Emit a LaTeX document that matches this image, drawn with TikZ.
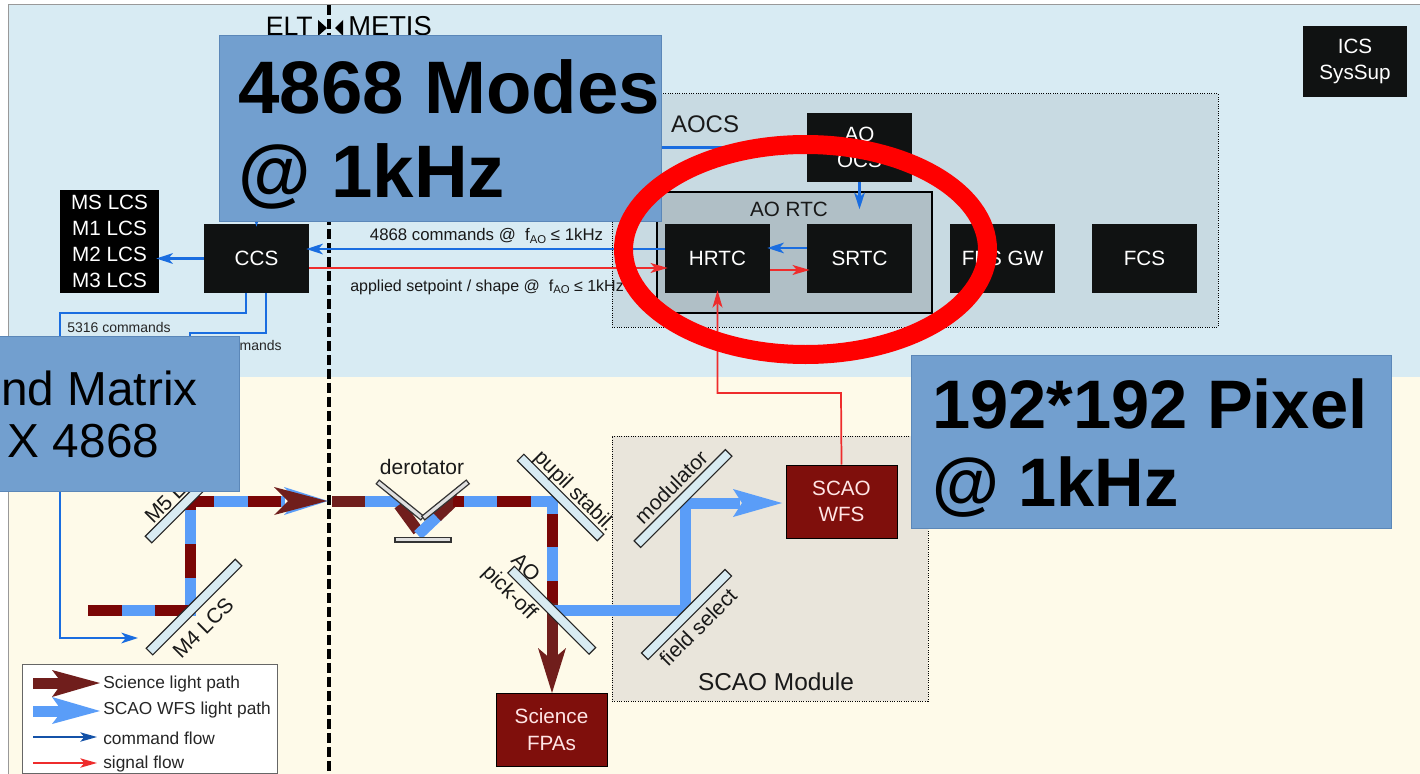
\documentclass[tikz,border=0pt]{standalone}
\usepackage{fontspec}
\setmainfont{Liberation Sans}
\usetikzlibrary{arrows.meta,calc}
\definecolor{skybg}{HTML}{D8EBF3}
\definecolor{creambg}{HTML}{FEFAE9}
\definecolor{aocsbg}{HTML}{C8DAE2}
\definecolor{rtcbg}{HTML}{B0BFC6}
\definecolor{scaobg}{HTML}{E9E5DB}
\definecolor{callblue}{HTML}{729FCF}
\definecolor{callline}{HTML}{5B87B8}
\definecolor{boxblack}{HTML}{101212}
\definecolor{wine}{HTML}{7F0F0C}
\definecolor{beamred}{HTML}{7A0606}
\definecolor{beamsolid}{HTML}{701E1C}
\definecolor{beamblue}{HTML}{5A9DF8}
\definecolor{cmdblue}{HTML}{1A6DE0}
\definecolor{sigred}{HTML}{EE2C2C}
\definecolor{mirrorfill}{HTML}{D8EBF2}
\newcommand\fz[2]{\fontsize{#1}{#2}\selectfont}
\newcommand\fao{f\raisebox{-2pt}{\fz{8.5}{8.5}AO}}
\tikzset{
  x=0.75pt,y=-0.75pt,
  blackbox/.style={fill=boxblack,draw=none,text=white,inner sep=0pt,align=center,minimum width=78.75pt,minimum height=51.75pt,font=\fz{15.5}{20}},
  winebox/.style={fill=wine,draw=black,line width=.75pt,text=white!90!red,inner sep=0pt,align=center,font=\fz{15.5}{20}},
  zonebox/.style={draw=black,densely dotted,line width=.75pt,inner sep=0pt},
  callout/.style={fill=callblue,draw=callline,line width=.75pt,inner sep=0pt},
  calltext/.style={inner sep=0pt,anchor=west,align=left,text=black},
  mirror/.style={fill=mirrorfill,draw=black!85,line width=.9pt,inner sep=0pt,minimum height=7pt},
  dero/.style={fill=black!12,draw=black!80,line width=.9pt,inner sep=0pt,minimum height=3.6pt},
  beam/.style={line width=8.25pt,color=beamblue,line join=miter},
  beamdash/.style={line width=8.25pt,color=beamred,line join=miter},
  flowblue/.style={draw=cmdblue,line width=1.6pt,-{Stealth[length=12.5pt,width=8pt,inset=3.5pt]},shorten >=-2.25pt},
  flowred/.style={draw=sigred,line width=1.3pt,-{Stealth[length=13pt,width=7.5pt,inset=3.5pt]},shorten >=-2.25pt},
  lbl/.style={inner sep=0pt,text=black!90,font=\fz{15.75}{18}},
  small/.style={inner sep=0pt,text=black!85,font=\fz{10.5}{12}},
  mid/.style={inner sep=0pt,text=black!90,font=\fz{12}{14}},
  leg/.style={inner sep=0pt,anchor=west,text=black!85,font=\fz{13}{15}},
}
\begin{document}
\begin{tikzpicture}
\useasboundingbox (0,0) rectangle (1420,774);
\fill[white] (0,0) rectangle (1420,774);
\fill[creambg] (8,377) rectangle (1420,774);
\fill[skybg] (8,5) rectangle (1420,377);
\draw[black!40,line width=.75pt] (8,774) -- (8,5) -- (1420,5);

% zones
\node[zonebox,fill=aocsbg,minimum width=454.5pt,minimum height=174.75pt] (aocs) at (915,210.5) {};
\node[draw=black,line width=.9pt,fill=rtcbg,inner sep=0pt,minimum width=206.25pt,minimum height=90.75pt] (rtc) at (794.5,252.5) {};
\node[zonebox,fill=scaobg,minimum width=237pt,minimum height=198.75pt] (scao) at (770,568.5) {};

% black boxes
\node[blackbox,minimum width=78pt,minimum height=52.5pt] (ics) at (1355,61.5) {ICS\\SysSup};
\node[blackbox] (ocs) at (859.5,147.5) {AO\\OCS};
\node[blackbox] (hrtc) at (717.5,258.5) {HRTC};
\node[blackbox] (srtc) at (859.5,258.5) {SRTC};
\node[blackbox] (gw) at (1002.5,258.5) {FPS GW};
\node[blackbox] (fcs) at (1144.5,258.5) {FCS};
\node[blackbox] (ccs) at (256.5,258.5) {CCS};
\node[fill=black,text=white,inner sep=0pt,align=center,minimum width=74.25pt,minimum height=77.25pt,font=\fz{15.5}{19.5}] (lcs) at (109.5,241.5) {MS LCS\\M1 LCS\\M2 LCS\\M3 LCS};
\node[winebox,minimum width=83.25pt,minimum height=54.75pt] (wfs) at (841.5,501.5) {SCAO\\WFS};
\node[winebox,minimum width=83.25pt,minimum height=54.75pt] (fpa) at (551.5,729.5) {Science\\FPAs};

% interface line
\draw[black,line width=3pt,dash pattern=on 7.5pt off 3pt] (329,5) -- (329,774);

% labels of the zones
\node[lbl,font=\fz{18}{20}] (aocsl) at (705,124) {AOCS};
\node[lbl,font=\fz{15.5}{18}] (rtcl) at (789,209) {AO RTC};
\node[lbl,font=\fz{18.3}{20}] (scaol) at (776,682) {SCAO Module};

% flows
\coordinate (ccsdrop1) at (246,293);
\coordinate (ccsdrop2) at (266,293);
\coordinate (m4in) at (138,638);
\coordinate (m5hid) at (190,345);
\draw[flowblue] (ocs.west) -| (ccs.north);
\draw[flowblue] (ccs.west) -- (ccs.west -| lcs.east);
\draw[flowblue] ([yshift=7.1pt]hrtc.west) -- ([yshift=7.1pt]ccs.east);
\draw[flowred] ([yshift=-7.1pt]ccs.east) -- ([yshift=-7.1pt]hrtc.west);
\draw[flowblue,shorten >=0pt] (ocs.south) -- ++(0,27);
\draw[flowblue] ([yshift=7.9pt]srtc.west) -- ([yshift=7.9pt]hrtc.east);
\draw[flowred] ([yshift=-8.6pt]hrtc.east) -- ([yshift=-8.6pt]srtc.west);
\draw[flowred] (wfs.north) -- (841,393) -- (717.5,393) -- (hrtc.south);
\draw[flowblue,shorten >=0pt] (ccsdrop1) -- (246,313) -- (60,313) -- (60,638) -- (m4in);
\draw[draw=cmdblue,line width=1.6pt] (ccsdrop2) -- (266,333) -- (190,333) -- (m5hid);

\node[mid,font=\fz{12.6}{14}] (c1) at (486.5,236) {4868 commands @ \ \fao{} ≤ 1kHz};
\node[mid,anchor=west] (c2) at (350,287) {applied setpoint / shape @ \ \fao{} ≤ 1kHz};
\node[small,anchor=west] (c3) at (67,327) {5316 commands};
\node[small,anchor=east] (c4) at (282,345) {mands};

% light paths
\coordinate (a0) at (88,610);
\coordinate (a1) at (190,610);
\coordinate (a2) at (190,501);
\coordinate (a3) at (285,501);
\coordinate (b0) at (332,501);
\coordinate (b1) at (552,501);
\coordinate (b2) at (552,603);
\coordinate (g0) at (552,610);
\coordinate (g1) at (685,610);
\coordinate (g2) at (685,503);
\coordinate (g3) at (740,503);
\draw[beam] (a0) -- (a1) -- (a2) -- (a3);
\draw[beamdash,dash pattern=on 25.2pt off 25.2pt] (a0) -- (a1) -- (a2) -- (a3);
\fill[beamblue] (284,487) -- (297,501) -- (284,515) -- (328,501) -- cycle;
\fill[beamsolid] (274,487) -- (288,501) -- (274,515) -- (327,501) -- cycle;

\draw[beam] (365,501) -- (400,501);
\draw[beamdash,color=beamsolid] (b0) -- (365,501);
\draw[beamdash,color=beamsolid] (399,505) -- (418,531);
\draw[beam] (418,535) -- (438,516);
\draw[beamdash,color=beamsolid] (437,517) -- (458,497);
\draw[beamdash] (453,501) -- (464,501);
\draw[beam] (464,501) -- (b1) -- (b2);
\draw[beamdash] (497,501) -- (531,501);
\draw[beamdash] (552,514) -- (552,547);
\draw[beamdash] (552,581) -- (b2);
\draw[beamdash,color=beamsolid] (b2) -- (552,665);
\fill[beamsolid] (538,648) -- (552,660) -- (566,648) -- (552,693) -- cycle;
\draw[beam] (g0) -- (g1) -- (g2) -- (g3);
\fill[beamblue] (733,489) -- (742,503) -- (733,517) -- (782,503) -- cycle;

% mirrors
\node[mirror,rotate=45,minimum width=94.5pt] (m4) at (194,607) {};
\node[mirror,rotate=45,minimum width=84.75pt] (m5) at (188.5,499.5) {};
\node[mirror,rotate=-45,minimum width=84.75pt] (pupil) at (560.5,497.5) {};
\node[mirror,rotate=-45,minimum width=86.25pt] (pick) at (551.75,610.25) {};
\node[mirror,rotate=45,minimum width=96.75pt] (modu) at (683,498.5) {};
\node[mirror,rotate=45,minimum width=88.5pt] (fsel) at (686.5,614.5) {};
\node[dero,rotate=-39,minimum width=43pt] (dl) at (400,500) {};
\node[dero,rotate=39,minimum width=43pt] (dr) at (445.5,500) {};
\node[dero,rotate=0,minimum width=42pt] (db) at (423,539.5) {};

\node[lbl,anchor=west,rotate=45] (m5l) at (148,520) {M5 LCS};
\node[lbl,rotate=45] (m4l) at (203,628) {M4 LCS};
\node[lbl] (derol) at (422,467) {derotator};
\node[lbl,rotate=-45] (pupl) at (574,492) {pupil stabil.};
\node[lbl,rotate=-45] (aol) at (526,567) {AO};
\node[lbl,rotate=-45] (pkl) at (509,593) {pick-off};
\node[lbl,rotate=45] (modl) at (671,487) {modulator};
\node[lbl,rotate=45] (fsl) at (698,627) {field select};

% ELT / METIS
\node[lbl,anchor=base east,font=\fz{20}{20},text=black] (elt) at (313,35.5) {ELT};
\node[lbl,anchor=base west,font=\fz{20.5}{20},text=black] (met) at (348,35.5) {METIS};
\fill[black] (318,20) -- (327,28) -- (318,36) -- cycle;
\fill[black] (343,20) -- (335,28) -- (343,36) -- cycle;

% legend
\node[fill=white,draw=black!60,line width=.75pt,inner sep=0pt,minimum width=191.25pt,minimum height=81.75pt] (legend) at (149.5,718.5) {};
\coordinate (l1a) at (33,683); \coordinate (l1b) at (66,683);
\coordinate (l2a) at (33,711); \coordinate (l2b) at (66,711);
\coordinate (l3a) at (33,737); \coordinate (l3b) at (97,737);
\coordinate (l4a) at (33,763); \coordinate (l4b) at (97,763);
\draw[beamdash,color=beamsolid] (l1a) -- (l1b);
\fill[beamsolid] (52,670) -- (62,683) -- (52,697) -- (100,683) -- cycle;
\draw[beam] (l2a) -- (l2b);
\fill[beamblue] (52,697) -- (62,711) -- (52,724) -- (100,711) -- cycle;
\draw[draw=cmdblue!75!black,line width=1.1pt,-{Stealth[length=12.5pt,width=7pt,inset=3pt]}] (l3a) -- (l3b);
\draw[draw=sigred,line width=1.1pt,-{Stealth[length=12.5pt,width=7pt,inset=3pt]}] (l4a) -- (l4b);
\node[leg] (t1) at (103,684.5) {Science light path};
\node[leg] (t2) at (103,710.5) {SCAO WFS light path};
\node[leg] (t3) at (103,738.5) {command flow};
\node[leg] (t4) at (103,764) {signal flow};

% call-outs
\node[callout,minimum width=331.5pt,minimum height=138.75pt] (modes) at (440,128.5) {};
\node[calltext,font=\fz{55.8}{63}\bfseries] (modest) at (238,134) {4868 Modes\\@ 1kHz};
\node[callout,minimum width=180pt,minimum height=116.25pt] (matrix) at (119,413.5) {};
\node[calltext,font=\fz{35.8}{39}] (matrixt) at (1,414) {nd Matrix\\\hspace*{5pt}X 4868};
\node[callout,minimum width=360pt,minimum height=129.75pt] (pixel) at (1151,441.5) {};
\node[calltext,font=\fz{51.5}{58}\bfseries] (pixelt) at (932,448) {192*192 Pixel\\@ 1kHz};

% highlight
\draw[red,line width=14.25pt] (805.5,249.5) ellipse [x radius=182,y radius=105];
\end{tikzpicture}
\end{document}
